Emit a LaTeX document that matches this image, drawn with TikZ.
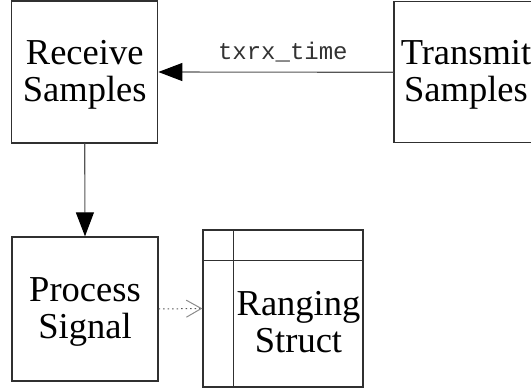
\documentclass[tikz,border=0pt]{standalone}
\usepackage{fontspec}
\setmainfont{Liberation Serif}
\newfontfamily\labelfont{Liberation Mono}
\usetikzlibrary{arrows.meta}
\definecolor{boxgray}{HTML}{303030}
\definecolor{linegray}{HTML}{555555}
\definecolor{dotgray}{HTML}{5A5A5A}
\definecolor{headgray}{HTML}{8C8C8C}
\definecolor{labelgray}{HTML}{333333}
\newcommand{\firstline}{\rule{0pt}{30pt}}
\begin{document}
\begin{tikzpicture}[x=1pt,y=-1pt,
  boxfont/.style={font=\fontsize{36.5}{37}\selectfont},
  procbox/.style={draw=boxgray, line width=1.3pt, inner sep=0pt, align=center, boxfont},
  flow/.style={draw=linegray, line width=1.1pt, -{Triangle[length=24pt,width=18pt,color=black]}},
  depend/.style={draw=dotgray, line width=1pt, dash pattern=on 1.5pt off 3pt,
    -{Straight Barb[length=15pt,width=17pt,line width=1pt,color=headgray]}},
  edgelabel/.style={text=labelgray, font=\labelfont\fontsize{24}{26}\selectfont}
]
\useasboundingbox (0,0) rectangle (531,390);
\clip (0,0) rectangle (531,390);
\node[procbox, minimum width=146pt, minimum height=142pt] (rx) at (84.7,72) {\firstline Receive\\Samples\vphantom{p}};
\node[procbox, minimum width=144pt, minimum height=141pt] (tx) at (466,72.3) {\firstline Transmit\\Samples\vphantom{p}};
\node[procbox, minimum width=146pt, minimum height=144pt] (ps) at (85,309) {\firstline Process\\Signal\vphantom{p}};
\node[procbox, minimum width=160pt, minimum height=157pt] (rs) at (283,308.5) {};
\draw[boxgray, line width=1.3pt] (rs.north west) ++(31,0) coordinate (rsv) -- (rsv |- rs.south);
\draw[boxgray, line width=1.3pt] (rs.north west) ++(0,31) coordinate (rsh) -- (rsh -| rs.east);
\node[boxfont, align=center, inner sep=0pt] (rst) at (298.5,323) {\firstline Ranging\\Struct\vphantom{p}};
\draw[flow] (tx.west) -- node[edgelabel, above=6pt, xshift=7pt] (lbl) {txrx\_time} (rx.east);
\draw[flow] (rx.south) -- (ps.north);
\draw[depend] (ps.east) -- (rs.west);
\end{tikzpicture}
\end{document}
